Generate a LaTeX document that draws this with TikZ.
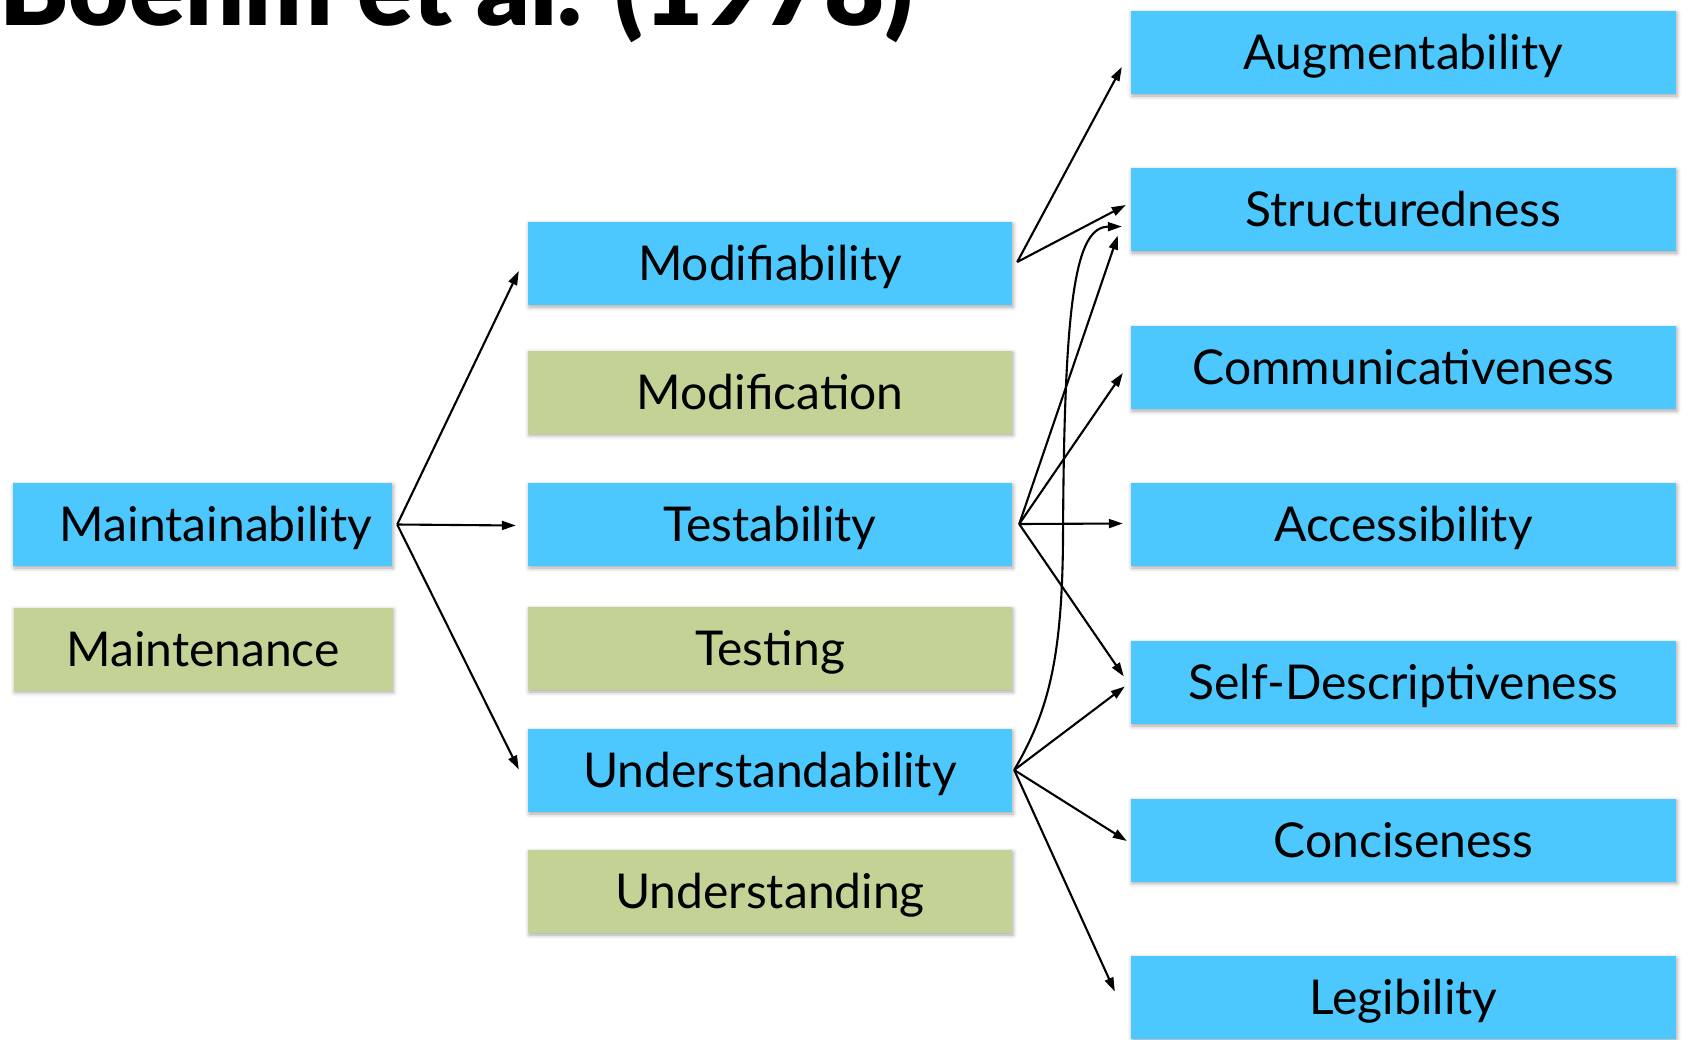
\documentclass[tikz,border=0pt]{standalone}
\usepackage{fontspec}
\setmainfont{Lato}
\IfFontExistsTF{Lato Black}{\newfontfamily\titlefont{Lato Black}}{\newfontfamily\titlefont{Lato}[UprightFont=*-Bold]}
\usetikzlibrary{arrows.meta,shadows.blur}
\definecolor{boxblue}{RGB}{76,200,255}
\definecolor{boxgreen}{RGB}{195,211,150}
\begin{document}
\begin{tikzpicture}[x=1pt,y=-1pt,
  qbox/.style={rectangle, inner sep=0pt, minimum height=83pt,
    font=\fontsize{48}{52}\selectfont, text=black, text height=34pt, text depth=0pt,
    blur shadow={shadow xshift=1pt, shadow yshift=-2pt, shadow blur radius=4pt, shadow opacity=35}},
  bluebox/.style={qbox, fill=boxblue},
  greenbox/.style={qbox, fill=boxgreen},
  leftcol/.style={minimum width=379pt},
  midcol/.style={minimum width=484pt},
  rightcol/.style={minimum width=545pt},
  arr/.style={-{Triangle[length=14pt,width=9pt]}, line width=2.1pt}
]
\useasboundingbox (0,0) rectangle (1692,1039);
% title
\node[anchor=base east, inner sep=0pt, font=\fontsize{104}{104}\selectfont\titlefont] (title) at (914,25) {Boehm et al. (1978)};
% left column
\node[bluebox, leftcol, text width=339pt, inner xsep=20pt, align=right] (maint) at (202.5,524.5) {Maintainability};
\node[greenbox, leftcol] (mainten) at (203,649) {Maintenance};
% middle column
\node[bluebox, midcol] (modif) at (770,263.5) {Modifiability};
\node[greenbox, midcol] (modification) at (770,392) {Modification};
\node[bluebox, midcol] (test) at (770,524.5) {Testability};
\node[greenbox, midcol] (testing) at (770,648.5) {Testing};
\node[bluebox, midcol] (under) at (770,770.5) {Understandability};
\node[greenbox, midcol] (understanding) at (770,891.5) {Understanding};
% right column
\node[bluebox, rightcol] (aug) at (1403.5,52.5) {Augmentability};
\node[bluebox, rightcol] (struct) at (1403.5,209.5) {Structuredness};
\node[bluebox, rightcol] (comm) at (1403.5,367.5) {Communicativeness};
\node[bluebox, rightcol] (access) at (1403.5,524.5) {Accessibility};
\node[bluebox, rightcol] (sd) at (1403.5,682.5) {Self-Descriptiveness};
\node[bluebox, rightcol] (conc) at (1403.5,840) {Conciseness};
\node[bluebox, rightcol] (leg) at (1403.5,997.5) {Legibility};
% start points
\coordinate (mS) at ([xshift=5pt]maint.east);
\coordinate (modS) at ([shift={(5,-1.5)}]modif.east);
\coordinate (testS) at ([shift={(7,-0.5)}]test.east);
\coordinate (undS) at ([shift={(2,-0.5)}]under.east);
% arrows
\draw[arr] (mS) -- ([shift={(-9,7.5)}]modif.west);
\draw[arr] (mS) -- ([shift={(-12,1)}]test.west);
\draw[arr] (mS) -- ([shift={(-9,-1)}]under.west);
\draw[arr] (modS) -- ([shift={(-9,14.5)}]aug.west);
\draw[arr] (modS) -- ([shift={(-5,-4.5)}]struct.west);
\draw[arr] (testS) -- ([shift={(-13,26)}]struct.west);
\draw[arr] (testS) -- ([shift={(-8,5.5)}]comm.west);
\draw[arr] (testS) -- ([shift={(-8,-1)}]access.west);
\draw[arr] (testS) -- ([shift={(-7,-6)}]sd.west);
\draw[arr] (undS) .. controls (1048,712) and (1062,660) .. (1063,540)
   .. controls (1064,300) and (1075,227) .. ([shift={(-9,17)}]struct.west);
\draw[arr] (undS) -- ([shift={(-6,4)}]sd.west);
\draw[arr] (undS) -- ([shift={(-4,1)}]conc.west);
\draw[arr] (undS) -- ([shift={(-16,-6)}]leg.west);
\end{tikzpicture}
\end{document}
